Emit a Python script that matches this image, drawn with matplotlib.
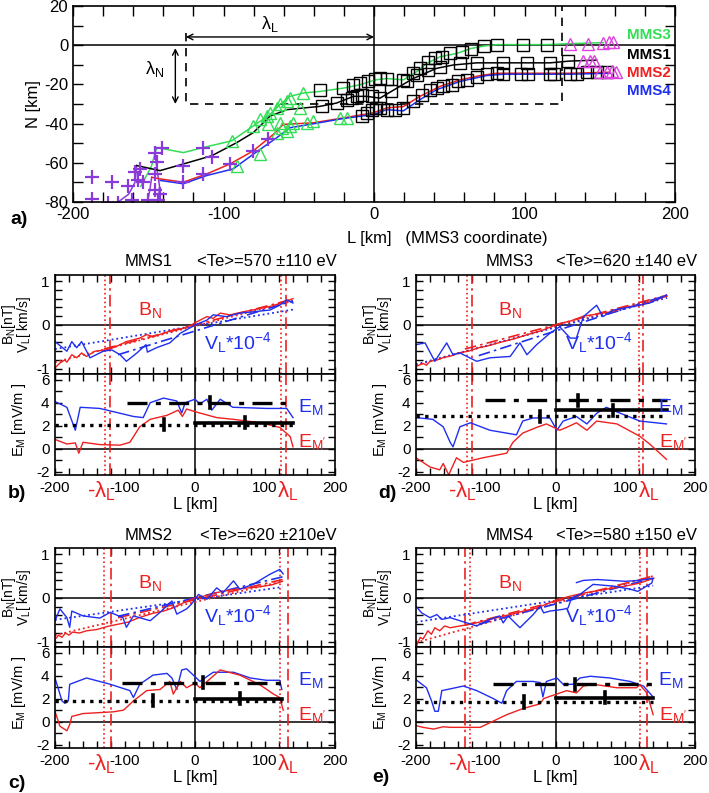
import matplotlib
matplotlib.use("Agg")
import matplotlib.pyplot as plt
from matplotlib.ticker import MultipleLocator
from matplotlib.transforms import blended_transform_factory

plt.rcParams['font.family'] = ['Liberation Sans', 'DejaVu Sans']
plt.rcParams['axes.unicode_minus'] = False
plt.rcParams['mathtext.fontset'] = 'custom'
plt.rcParams['mathtext.rm'] = 'Liberation Sans'
plt.rcParams['mathtext.it'] = 'Liberation Sans:italic'

W, H = 709, 793
RED = '#ee2020'
BLUE = '#1f2ff0'
GREEN = '#33dd55'
MAGENTA = '#e040e0'
PURPLE = '#8a3ad8'

# ---------------- panel a: trajectories (L, N) in km ----------------
mms3_L = [-155, -148, -144.4, -126.7, -113.4, -94.6, -80.2, -69.1, -62.5, -55.8, -47, -35.9, -20.4, -9.3, 0.7,
          8.4, 19.5, 28.4, 35, 43.9, 55, 64.3, 73.2, 82, 99.2, 114.9, 130.2, 152.4]
mms3_N = [-72, -62, -52.2, -54.8, -52.2, -48.8, -41.2, -35.4, -30.3, -26.1, -24.4, -23.6, -21.9, -20.2, -17.7,
          -17, -17.7, -13.5, -9.3, -5.9, -4.2, -1.7, -0.4, 0.3, 0.3, 0.3, 0.8, 1.3]
mms1_L = [-157.7, -142.2, -126.7, -107.8, -91.2, -80.2, -69.1, -58, -35.9, -24.8, -13.7, -4.9, 4, 15, 26,
          41.6, 52.7, 68.2, 86, 101.5, 117, 130, 148]
mms1_N = [-61.4, -64, -60.6, -56.4, -49.7, -44.6, -36.2, -32.9, -31.2, -29.5, -26.1, -26.1, -27, -22, -17,
          -11.8, -10.1, -9, -9, -9, -9, -8.1, -7.6]
mms2_L = [-147.7, -142.2, -126.7, -111.2, -95.7, -80.2, -66.9, -60.3, -40.3, -20.4, -0.5, 8.4, 19.5, 30.5,
          43.9, 57.1, 70.4, 81.5, 97, 130.2, 156.8]
mms2_N = [-67.4, -68.2, -69.9, -65.7, -60.6, -53.9, -45.5, -40.4, -39.6, -37.1, -34.5, -32, -31.3, -26.1,
          -21, -17.7, -15.5, -14.3, -14.3, -14.3, -13.8]
mms4_L = [-142, -126.7, -111.2, -93.5, -80.2, -64.6, -55.8, -40.3, -20.4, -0.5, 8.4, 19.5, 30.5, 41.6,
          57.1, 74.8, 86, 130.2, 156.8]
mms4_N = [-69, -70.7, -66.5, -63.1, -55.6, -47.2, -42.1, -40.1, -37.4, -35.4, -32.9, -33.5, -27.8, -22.7,
          -18.5, -15.5, -14.8, -14.8, -14.3]
purple_segs = [([-170, -163, -158.8, -157.7], [-80, -76, -70, -61.4]),
               ([-150.5, -149, -147.7], [-80, -74, -67.4]),
               ([-143.3, -142.5, -144.4, -145.5], [-80, -72, -62, -54.8])]

square_L = [-35.9, -20.4, -13.7, -9.3, -3.8, 0.7, 4, 8.4, 19.5, 26, 30.5, 36, 40.6, 45, 50.5, 58.3, 64.3,
            73.2, 82, 99.2, 114.9,
            -34.7, -24.8, -18.2, -14.8, -11.5, -8.2, -1.6, 4, 11, 21.8, 28.4, 36, 44, 57.1, 68.2, 86, 101.5,
            117, 129,
            -8.2, -4.9, -1.6, 1.5, 4, 8.4, 13.9, 19.5, 26, 31.7, 37.2, 41.6, 46, 51.5, 55.9, 61.5, 68.2, 74.8,
            81.5, 86, 98, 102.6, 117, 119.3, 130.2, 134.7, 141.3, 148, 154.6]
square_N = [-23, -21.9, -20.2, -19.3, -18.5, -17.2, -16.5, -17, -17.7, -14.3, -11.8, -8.4, -6.7, -5.9, -4.2,
            -3.4, -1.7, -0.4, 0.3, 0.3, 0.3,
            -31.2, -29.5, -27.8, -27, -26.1, -25.3, -26.1, -27, -23.6, -18.5, -15.1, -12.6, -10.9, -9.3, -9,
            -9, -9, -9, -8.1,
            -36.2, -34.5, -32.9, -32, -32, -32.9, -32.9, -32, -28.6, -25.3, -22.7, -21.9, -21, -20.2, -18.5,
            -17.7, -16, -14.8, -14.3, -14.8, -14.8, -14.8, -14.8, -14.8, -14.8, -14.8, -13.8, -13.8, -13.5]
gtri_L = [-94.6, -80.2, -69.1, -62.5, -55.8, -58, -47, -71.3, -64.6, -49.1, -75.8, -70.2, -62.5, -53.6,
          -44.7, -40.3, -22.6, -18.2, -91.2, -75.8, -64.6, -61.4, -55.8, -58]
gtri_N = [-48.8, -41.2, -34.5, -30, -27, -28.5, -24.4, -36, -31.9, -31.9, -37.8, -40.4, -39.6, -39.6,
          -39.6, -38.8, -37.1, -37.1, -61.4, -55.6, -44.6, -42.1, -41.2, -43.8]
mtri_L = [130.2, 142.4, 152.4, 156, 159, 139, 143.5, 146, 150.2, 154.6, 158, 161]
mtri_N = [0.8, 0.8, 1.3, 1.5, 1.5, -8.1, -8.1, -8, -13.5, -13.5, -13.3, -13.5]
cross_L = [-187.6, -187.6, -174.3, -176.5, -170, -163.3, -161, -156.6, -155.5, -145.5, -144.4, -141.1,
           -145.5, -145.5, -142.2, -143.3, -126.7, -113.4, -107.8, -126.7, -113.4, -95.7, -80.2, -70.2,
           -150, -153.3, -158.8]
cross_N = [-67.4, -78.3, -69.9, -80.5, -80.5, -71.6, -79, -69, -63.1, -54.8, -59.8, -52.2, -65.7, -74.1,
           -75.8, -79, -61.4, -52.2, -56.9, -69.9, -65.7, -60.6, -53.9, -48, -79, -69.9, -64.6]
probe_names = ['MMS3', 'MMS1', 'MMS2', 'MMS4']
probe_label_N = [5, -5, -14.3, -23.5]
probe_colors = [GREEN, 'black', RED, BLUE]

# ---------------- panels b-e ----------------
# MMS1 (b)
b_bn_L = [-200, -193, -186, -183, -176, -169, -162, -155, -143, -126, -112, -98, -79, -69, -60, -45, -31, -17,
          -5, 0, 17, 26, 36, 50, 69, 88, 107, 121, 140]
b_bn = [-0.98, -0.87, -0.8, -0.85, -0.68, -0.75, -0.64, -0.72, -0.6, -0.57, -0.49, -0.38, -0.3, -0.22, -0.27,
        -0.19, -0.11, -0.08, 0, 0.05, 0.19, 0.15, 0.27, 0.23, 0.3, 0.36, 0.42, 0.49, 0.6]
b_vl_L = [-200, -183, -176, -169, -162, -150, -131, -119, -107, -98, -83, -70, -68, -55, -36, -21, -12, 0, 17,
          26, 45, 64, 83, 107, 121, 131, 140]
b_vl = [-0.38, -0.6, -0.38, -0.52, -0.38, -0.75, -0.6, -0.57, -0.68, -0.83, -0.64, -0.45, -0.62, -0.52, -0.41,
        -0.19, -0.11, 0, 0.11, 0.23, 0.19, 0.27, 0.30, 0.34, 0.45, 0.57, 0.5]
b_fit_bn = ([-130, 140], [-0.55, 0.59])
b_fit_bn2 = ([-200, 140], [-0.85, 0.55])
b_fit_vl = ([-110, 140], [-0.68, 0.55])
b_fit_vl2 = ([-200, 140], [-0.55, 0.35])
b_em_L = [-200, -183, -171, -164, -136, -88, -74, -64, -45, -26, -19, -14, 0, 7, 17, 24, 36, 54, 102, 131, 140]
b_em = [4.1, 3.6, 1.6, 3.6, 3.5, 2.8, 2.7, 4.0, 4.4, 4.15, 3.1, 4.0, 4.3, 3.9, 4.3, 3.35, 4.3, 3.6, 3.5, 3.5, 2.7]
b_emp_L = [-200, -183, -171, -166, -160, -136, -107, -93, -79, -64, -40, -24, -18, -12, 1, 31, 55, 93, 121,
           136, 140]
b_emp = [0.8, 0.4, 0.5, -0.4, 0.55, 0.35, 0.3, 0.55, 1.9, 2.55, 2.9, 3.35, 2.8, 3.45, 3.2, 2.7, 2.55, 2.25,
         1.85, 1.05, 0.15]
b_avg = [(4.0, -97, 140, 22), (2.08, -200, 140, -44), (2.27, 0, 140, 72)]
b_lam = [(-128, -121), (123, 130)]

# MMS3 (d)
d_bn_L = [-200, -190, -185, -180, -170, -160, -150, -140, -125, -110, -100, -80, -60, -40, -20, 0, 10, 20, 40,
          60, 80, 100, 120, 140, 160]
d_bn = [-0.95, -0.88, -0.92, -0.83, -0.8, -0.74, -0.71, -0.64, -0.6, -0.52, -0.49, -0.4, -0.32, -0.22, -0.13,
        0.0, 0.05, 0.08, 0.2, 0.25, 0.3, 0.4, 0.45, 0.55, 0.66]
d_vl_L = [-200, -187, -173, -156, -147, -137, -113, -94, -65, -51, -41, -27, -8, 6, 21, 30, 40, 59, 68, 83,
          111, 135, 159]
d_vl = [-0.45, -0.41, -0.83, -0.41, -0.68, -0.64, -0.83, -0.75, -0.72, -0.41, -0.68, -0.45, -0.19, -0.04, -0.3,
        -0.3, 0.19, 0.45, 0.19, 0.34, 0.42, 0.5, 0.68]
d_fit_bn = ([-130, 160], [-0.55, 0.68])
d_fit_bn2 = ([-200, 160], [-0.92, 0.66])
d_fit_vl = ([-110, 160], [-0.7, 0.68])
d_fit_vl2 = ([-200, 160], [-0.9, 0.62])
d_em_L = [-200, -176, -161, -151, -147, -137, -122, -94, -56, -47, -32, -8, 2, 11, 30, 45, 59, 73, 88, 121, 159]
d_em = [2.7, 2.55, 1.9, 0.55, 0.15, 1.9, 2.25, 1.6, 1.2, 2.4, 2.67, 2.67, 1.6, 2.4, 2.8, 2.15, 3.07, 3.6, 3.2,
        2.4, 2.15]
d_emp_L = [-200, -180, -166, -161, -153, -151, -142, -132, -104, -70, -61, -47, -27, -13, 6, 16, 30, 45, 59,
           88, 121, 135, 159]
d_emp = [-0.8, -1.6, -1.85, -1.3, -2.3, -2.0, -0.8, -1.2, -0.8, -0.4, 0.55, 1.35, 1.85, 2.15, 1.6, 1.85, 2.25,
         1.6, 2.4, 2.15, 1.07, 0.4, -0.93]
d_avg = [(4.2, -101, 160, 32), (2.8, -200, 160, -22), (3.33, 0, 160, 83)]
d_lam = [(-127, -120), (120, 126)]

# MMS2 (c)
c_bn_L = [-200, -195, -190, -185, -180, -175, -165, -155, -140, -125, -110, -95, -80, -60, -45, -30, -15, 0, 15,
          30, 50, 70, 90, 110, 125]
c_bn = [-0.95, -0.85, -0.9, -0.8, -0.85, -0.78, -0.8, -0.75, -0.72, -0.65, -0.6, -0.55, -0.45, -0.35, -0.3,
        -0.22, -0.1, 0.0, 0.05, 0.12, 0.18, 0.22, 0.25, 0.3, 0.38]
c_vl_L = [-200, -193, -183, -179, -176, -160, -136, -121, -103, -98, -88, -64, -50, -33, -26, -12, -5, 5, 17, 31,
          40, 55, 64, 83, 107, 121, 126]
c_vl = [-0.52, -0.25, -0.45, -0.67, -0.3, -0.41, -0.46, -0.33, -0.45, -0.67, -0.41, -0.52, -0.33, -0.07, -0.37,
        -0.25, -0.14, 0.08, -0.03, 0.23, 0.12, 0.39, 0.2, 0.31, 0.54, 0.65, 0.55]
c_fit_bn = ([-110, 125], [-0.45, 0.42])
c_fit_bn2 = ([-200, 125], [-0.85, 0.38])
c_fit_vl = ([-110, 130], [-0.42, 0.5])
c_fit_vl2 = ([-200, 125], [-0.5, 0.25])
c_em_L = [-200, -190, -186, -181, -179, -155, -121, -93, -88, -79, -60, -40, -33, -26, -19, -12, 2, 7, 26, 55,
          79, 102, 121, 124]
c_em = [3.8, 1.8, 1.6, 1.8, 3.25, 3.8, 3.25, 2.7, 2.1, 3.25, 4.05, 4.2, 3.8, 2.8, 4.5, 4.6, 3.8, 3.5, 4.3, 4.3,
        3.8, 3.6, 3.6, 2.8]
c_emp_L = [-200, -193, -183, -179, -176, -160, -117, -102, -88, -69, -50, -36, -31, -21, -12, 0, 7, 36, 64, 93,
           112, 121, 126]
c_emp = [0.9, -0.4, -0.8, -0.25, 0.45, 0.7, 0.85, 1.0, 1.8, 2.7, 2.8, 3.5, 2.4, 3.5, 2.95, 3.35, 2.95, 4.5,
         4.05, 3.2, 2.4, 2.1, 1.0]
c_avg = [(3.4, -105, 124, 11), (1.83, -200, 124, -60), (2.0, 0, 124, 64)]
c_lam = [(-130, -120), (122, 133)]

# MMS4 (e)
e_bn_L = [-200, -194, -190, -183, -178, -173, -166, -159, -151, -137, -122, -103, -84, -65, -46, -27, -8, 2, 21,
          40, 69, 97, 121, 141]
e_bn = [-1.12, -0.9, -0.94, -0.75, -0.83, -0.68, -0.75, -0.64, -0.68, -0.64, -0.6, -0.53, -0.45, -0.38, -0.3,
        -0.23, -0.11, -0.04, 0.04, 0.11, 0.19, 0.26, 0.34, 0.45]
e_vl_L = [-200, -192, -180, -170, -163, -151, -127, -113, -94, -80, -75, -68, -51, -32, -22, -17, -8, 11, 18, 23,
          35, 54, 83, 107, 118, 138, 140, 120, 100, 80, 60, 40, 30]
e_vl = [-0.19, -0.34, -0.45, -0.38, -0.49, -0.45, -0.57, -0.64, -0.49, -0.41, -0.57, -0.41, -0.68, -0.38, -0.19,
        -0.34, -0.3, -0.26, -0.23, 0.0, 0.08, 0.31, 0.27, 0.2, 0.15, 0.34, 0.45, 0.4, 0.38, 0.4, 0.42, 0.4, 0.35]
e_fit_bn = ([-130, 140], [-0.62, 0.5])
e_fit_bn2 = ([-200, 140], [-1.02, 0.5])
e_fit_vl = ([-110, 140], [-0.6, 0.45])
e_fit_vl2 = ([-200, 140], [-0.55, 0.28])
e_em_L = [-200, -185, -178, -173, -168, -163, -151, -132, -113, -89, -77, -70, -56, -32, -22, -18, -13, 2, 11,
          25, 35, 50, 78, 107, 126, 140]
e_em = [3.65, 2.95, 1.85, 0.9, 0.9, 2.7, 2.85, 3.1, 2.7, 2.0, 1.6, 2.7, 3.5, 3.5, 3.4, 2.15, 3.5, 3.8, 3.25,
        3.25, 3.8, 3.95, 3.8, 3.5, 3.1, 2.15]
e_emp_L = [-200, -190, -175, -161, -151, -127, -108, -89, -70, -46, -22, -17, -8, 2, 16, 30, 40, 55, 88, 116,
           121, 131, 140]
e_emp = [-0.35, -0.5, -0.65, -0.45, -0.5, -0.5, -0.5, 0.05, 0.6, 1.15, 1.55, 2.0, 2.2, 2.4, 2.7, 2.5, 3.1, 3.25,
         2.95, 2.95, 3.2, 2.5, 0.6]
e_avg = [(3.25, -89, 140, 28), (1.7, -200, 140, -45), (2.1, 0, 140, 71)]
e_lam = [(-122, -130), (121, 131)]

titles = [('MMS1', '<Te>=570 \u00b1110 eV'), ('MMS3', '<Te>=620 \u00b1140 eV'),
          ('MMS2', '<Te>=620 \u00b1210eV'), ('MMS4', '<Te>=580 \u00b1150 eV')]


def px_axes(fig, l, t, r, b):
    return fig.add_axes([l / W, 1 - b / H, (r - l) / W, (b - t) / H])


def ftext(fig, x, y, s, **kw):
    return fig.text(x / W, 1 - y / H, s, **kw)


fig = plt.figure(figsize=(W / 100, H / 100), dpi=100)

# ---------------- panel a ----------------
ax = px_axes(fig, 73, 6, 675, 202)
ax.set_xlim(-200, 200)
ax.set_ylim(-80, 20)
ax.axhline(0, color='k', lw=1.1)
ax.axvline(0, color='k', lw=1.1)
ax.plot([-125, -125, 125, 125], [6, -30, -30, 20], color='k', lw=1.2, dashes=(5, 4))
ax.annotate('', xy=(-125, 4.2), xytext=(0, 4.2),
            arrowprops=dict(arrowstyle='<->', lw=1, color='k', shrinkA=0, shrinkB=0))
ax.annotate('', xy=(-132, -1.5), xytext=(-132, -30),
            arrowprops=dict(arrowstyle='<->', lw=1, color='k', shrinkA=0, shrinkB=0))
ax.text(-69, 11, '\u03bb$_\\mathregular{L}$', fontsize=13, ha='center', va='center')
ax.text(-146, -12, '\u03bb$_\\mathregular{N}$', fontsize=13, ha='center', va='center')

for seg_L, seg_N in purple_segs:
    ax.plot(seg_L, seg_N, color=PURPLE, lw=1.1)
ax.plot(mms3_L, mms3_N, color=GREEN, lw=1.1)
ax.plot(mms1_L, mms1_N, color='k', lw=1.1)
ax.plot(mms2_L, mms2_N, color=RED, lw=1.1)
ax.plot(mms4_L, mms4_N, color=BLUE, lw=1.1)
ax.plot(square_L, square_N, 's', mfc='none', mec='k', ms=8, mew=1)
ax.plot(gtri_L, gtri_N, '^', mfc='none', mec=GREEN, ms=8, mew=1)
ax.plot(mtri_L, mtri_N, '^', mfc='none', mec=MAGENTA, ms=8, mew=1)
ax.plot(cross_L, cross_N, '+', color=PURPLE, ms=10, mew=1.6)
for name, yn, col in zip(probe_names, probe_label_N, probe_colors):
    ax.text(197, yn, name, color=col, fontsize=11, fontweight='bold', ha='right', va='center')

ax.xaxis.set_major_locator(MultipleLocator(100))
ax.xaxis.set_minor_locator(MultipleLocator(20))
ax.yaxis.set_major_locator(MultipleLocator(20))
ax.yaxis.set_minor_locator(MultipleLocator(10))
ax.tick_params(which='both', direction='in', top=True, right=True, length=7, width=1, labelsize=12)
for sp in ax.spines.values():
    sp.set_linewidth(1.2)
ax.set_ylabel('N [km]', fontsize=12, labelpad=2)
ftext(fig, 347, 238, 'L [km]   (MMS3 coordinate)', fontsize=12, ha='left', va='center')
ftext(fig, 10, 220, 'a)', fontsize=14, fontweight='bold', ha='left', va='center')


# ---------------- panels b-e ----------------
def sub_panel(left, top, right, bottom, letter_xy, letter, title,
              bn_L, bn, vl_L, vl, fit_bn, fit_bn2, fit_vl, fit_vl2,
              em_L, em, emp_L, emp, avg, lam):
    split = top + 99
    axt = px_axes(fig, left, top, right, split)
    axb = px_axes(fig, left, split, right, bottom)
    dashdot = (0, (7, 2.5, 1.5, 2.5))
    for a in (axt, axb):
        a.set_xlim(-200, 200)
        a.axhline(0, color='k', lw=1.1)
        a.axvline(0, color='k', lw=1.1)
        a.axvline(lam[0][0], color=RED, lw=1.2, ls=':')
        a.axvline(lam[1][0], color=RED, lw=1.2, ls=':')
        a.axvline(lam[0][1], color=RED, lw=1.2, ls=dashdot)
        a.axvline(lam[1][1], color=RED, lw=1.2, ls=dashdot)
        a.xaxis.set_major_locator(MultipleLocator(100))
        a.xaxis.set_minor_locator(MultipleLocator(20))
        a.tick_params(which='both', direction='in', top=True, right=True, length=5, width=1,
                      labelsize=11, pad=4)
        for sp in a.spines.values():
            sp.set_linewidth(1.2)

    axt.set_ylim(-1.12, 1.14)
    axt.yaxis.set_major_locator(MultipleLocator(1))
    axt.yaxis.set_minor_locator(MultipleLocator(0.2))
    axt.tick_params(labelbottom=False)
    axt.plot(fit_bn2[0], fit_bn2[1], color=RED, lw=1.3, ls=':')
    axt.plot(fit_vl2[0], fit_vl2[1], color=BLUE, lw=1.3, ls=':')
    axt.plot(fit_bn[0], fit_bn[1], color=RED, lw=1.2, ls=dashdot)
    axt.plot(fit_vl[0], fit_vl[1], color=BLUE, lw=1.2, ls=dashdot)
    axt.plot(bn_L, bn, color=RED, lw=1.0)
    axt.plot(vl_L, vl, color=BLUE, lw=1.0)
    axt.text(-65, 0.33, 'B$_\\mathregular{N}$', color=RED, fontsize=14, ha='center', va='center')
    axt.text(62, -0.4, 'V$_\\mathregular{L}$*10$^\\mathregular{-4}$', color=BLUE, fontsize=14,
             ha='center', va='center')

    axb.set_ylim(-2.3, 6.5)
    axb.yaxis.set_major_locator(MultipleLocator(2))
    axb.yaxis.set_minor_locator(MultipleLocator(1))
    axb.plot(em_L, em, color=BLUE, lw=1.0)
    axb.plot(emp_L, emp, color=RED, lw=1.0)
    styles = [dict(ls=(0, (6, 2.5, 1.5, 2.5)), lw=2.4), dict(ls=(0, (1, 1.6)), lw=2.4), dict(ls='-', lw=2.6)]
    for (lev, x0, x1, xt), st in zip(avg, styles):
        axb.plot([x0, x1], [lev, lev], color='k', **st)
        axb.plot([xt, xt], [lev - 0.5, lev + 0.5], color='k', lw=2.6)
    axb.text(165, 3.6, 'E$_\\mathregular{M}$', color=BLUE, fontsize=14, ha='center', va='center')
    axb.text(168, 0.55, "E$_\\mathregular{M'}$", color=RED, fontsize=14, ha='center', va='center')
    axb.set_xlabel('L [km]', fontsize=12, labelpad=2)
    tr = blended_transform_factory(axb.transData, axb.transAxes)
    axb.text(-133, -0.16, '-\u03bb$_\\mathregular{L}$', color=RED, fontsize=16, ha='center', va='center',
             transform=tr)
    axb.text(133, -0.16, '\u03bb$_\\mathregular{L}$', color=RED, fontsize=16, ha='center', va='center',
             transform=tr)

    ymid_t = (top + split) / 2
    ftext(fig, left - 46, ymid_t, 'B$_\\mathregular{N}$[nT]', fontsize=10, rotation=90, ha='center', va='center')
    ftext(fig, left - 31, ymid_t, 'V$_\\mathregular{L}$[ km/s]', fontsize=10, rotation=90, ha='center',
          va='center')
    ftext(fig, left - 36, (split + bottom) / 2 - 5, 'E$_\\mathregular{M}$ [mV/m ]', fontsize=10.5, rotation=90,
          ha='center', va='center')
    ftext(fig, left + 70, top - 13, title[0], fontsize=12, ha='left', va='center')
    ftext(fig, right + 2, top - 13, title[1], fontsize=12, ha='right', va='center')
    ftext(fig, letter_xy[0], letter_xy[1], letter, fontsize=14, fontweight='bold', ha='left', va='center')


sub_panel(55, 275, 335, 475, (8, 493), 'b)', titles[0], b_bn_L, b_bn, b_vl_L, b_vl,
          b_fit_bn, b_fit_bn2, b_fit_vl, b_fit_vl2, b_em_L, b_em, b_emp_L, b_emp, b_avg, b_lam)
sub_panel(416, 275, 695, 475, (378, 493), 'd)', titles[1], d_bn_L, d_bn, d_vl_L, d_vl,
          d_fit_bn, d_fit_bn2, d_fit_vl, d_fit_vl2, d_em_L, d_em, d_emp_L, d_emp, d_avg, d_lam)
sub_panel(55, 548, 335, 748, (8, 783), 'c)', titles[2], c_bn_L, c_bn, c_vl_L, c_vl,
          c_fit_bn, c_fit_bn2, c_fit_vl, c_fit_vl2, c_em_L, c_em, c_emp_L, c_emp, c_avg, c_lam)
sub_panel(416, 548, 695, 748, (372, 777), 'e)', titles[3], e_bn_L, e_bn, e_vl_L, e_vl,
          e_fit_bn, e_fit_bn2, e_fit_vl, e_fit_vl2, e_em_L, e_em, e_emp_L, e_emp, e_avg, e_lam)

fig.savefig('out.png', dpi=100)
